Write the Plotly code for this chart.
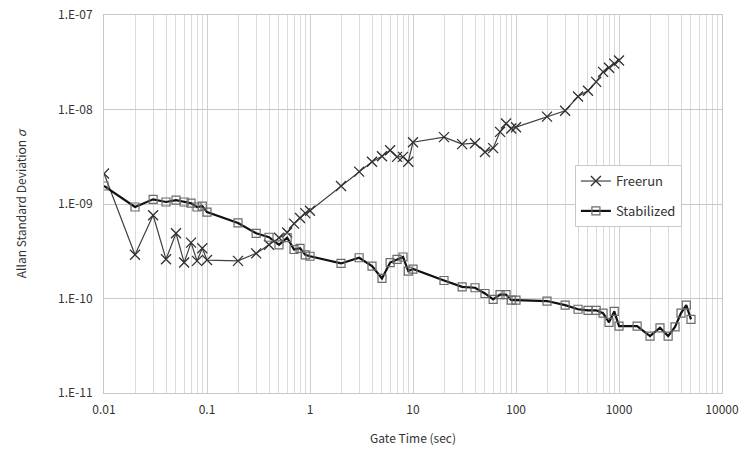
import plotly.graph_objects as go

# ---- data ----
free_x = [0.01, 0.02, 0.03, 0.04, 0.05, 0.06, 0.07, 0.08, 0.09, 0.1,
          0.2, 0.3, 0.4, 0.5, 0.6, 0.7, 0.8, 0.9, 1,
          2, 3, 4, 5, 6, 7, 8, 9, 10,
          20, 30, 40, 50, 60, 70, 80, 90, 100,
          200, 300, 400, 500, 600, 700, 800, 900, 1000]
free_y = [2.1e-9, 2.9e-10, 7.6e-10, 2.6e-10, 4.9e-10, 2.4e-10, 3.9e-10, 2.5e-10, 3.4e-10, 2.55e-10,
          2.5e-10, 3.0e-10, 3.7e-10, 4.4e-10, 5.0e-10, 6.2e-10, 7.1e-10, 8.0e-10, 8.5e-10,
          1.55e-9, 2.2e-9, 2.8e-9, 3.2e-9, 3.7e-9, 3.15e-9, 3.15e-9, 2.8e-9, 4.5e-9,
          5.1e-9, 4.3e-9, 4.4e-9, 3.55e-9, 3.9e-9, 5.8e-9, 7.1e-9, 6.3e-9, 6.5e-9,
          8.4e-9, 9.7e-9, 1.37e-8, 1.58e-8, 1.96e-8, 2.5e-8, 2.77e-8, 3.06e-8, 3.3e-8]

stab_x = [0.01, 0.02, 0.03, 0.04, 0.05, 0.06, 0.07, 0.08, 0.09, 0.1,
          0.2, 0.3, 0.4, 0.5, 0.6, 0.7, 0.8, 0.9, 1,
          2, 3, 4, 5, 6, 7, 8, 9, 10,
          20, 30, 40, 50, 60, 70, 80, 90, 100,
          200, 300, 400, 500, 600, 700, 800, 900, 1000,
          1500, 2000, 2500, 3000, 3500, 4000, 4500, 5000]
stab_y = [1.55e-9, 9.3e-10, 1.12e-9, 1.05e-9, 1.1e-9, 1.05e-9, 1.02e-9, 9.3e-10, 9.5e-10, 8.2e-10,
          6.3e-10, 4.9e-10, 4.45e-10, 3.7e-10, 4.4e-10, 3.3e-10, 3.4e-10, 2.9e-10, 2.8e-10,
          2.35e-10, 2.7e-10, 2.2e-10, 1.63e-10, 2.4e-10, 2.6e-10, 2.75e-10, 1.95e-10, 2.05e-10,
          1.55e-10, 1.33e-10, 1.3e-10, 1.13e-10, 9.8e-11, 1.1e-10, 1.1e-10, 9.6e-11, 9.6e-11,
          9.4e-11, 8.5e-11, 7.7e-11, 7.5e-11, 7.5e-11, 7.0e-11, 5.6e-11, 7.3e-11, 5.1e-11,
          5.1e-11, 4.0e-11, 4.9e-11, 4.0e-11, 5.0e-11, 7.0e-11, 8.5e-11, 6.0e-11]

x_ticks = [0.01, 0.1, 1, 10, 100, 1000, 10000]
x_tick_labels = ["0.01", "0.1", "1", "10", "100", "1000", "10000"]
y_ticks = [1e-11, 1e-10, 1e-9, 1e-8, 1e-7]
y_tick_labels = ["1.E-11", "1.E-10", "1.E-09", "1.E-08", "1.E-07"]
x_minor = [m * 10 ** e for e in range(-2, 4) for m in range(2, 10)]

FONT = "Noto Sans CJK JP"
TXT = "#333333"

fig = go.Figure()
fig.add_trace(go.Scatter(
    x=free_x, y=free_y, name="Freerun", mode="lines+markers", legendgroup="a",
    line=dict(color="#404040", width=1.2),
    marker=dict(symbol="x-thin-open", size=10, color="#303030",
                line=dict(color="#303030", width=1.3)),
))
fig.add_trace(go.Scatter(
    x=stab_x, y=stab_y, name="Stabilized", mode="lines+markers", legendgroup="b",
    line=dict(color="#111111", width=2.2),
    marker=dict(symbol="square-open", size=8, color="#6a6a6a",
                line=dict(color="#6a6a6a", width=1.2)),
))

fig.update_layout(
    width=745, height=452,
    margin=dict(l=104, r=23, t=15, b=59),
    paper_bgcolor="white", plot_bgcolor="white",
    font=dict(family=FONT, size=12, color=TXT),
    showlegend=True,
    legend=dict(x=0.762, y=0.603, xanchor="left", yanchor="top",
                bgcolor="white", bordercolor="#c8c8c8", borderwidth=1,
                font=dict(family=FONT, size=13, color=TXT),
                tracegroupgap=10, entrywidth=80, entrywidthmode="pixels"),
)
fig.update_xaxes(
    type="log", range=[-2, 4], automargin=False, ticklabeloverflow="allow",
    tickmode="array", tickvals=x_ticks, ticktext=x_tick_labels,
    showgrid=True, gridcolor="#cfcfcf", gridwidth=1,
    minor=dict(tickmode="array", tickvals=x_minor, showgrid=True,
               gridcolor="#dadada", gridwidth=1, ticks=""),
    showline=True, linecolor="#c8c8c8", linewidth=1, mirror=True,
    ticks="", ticklabelstandoff=6, zeroline=False,
    title=dict(text="Gate Time (sec)", font=dict(size=12, color=TXT), standoff=18),
    tickfont=dict(size=12, color=TXT),
)
fig.update_yaxes(
    type="log", range=[-11, -7], automargin=False, ticklabeloverflow="allow",
    tickmode="array", tickvals=y_ticks, ticktext=y_tick_labels,
    showgrid=True, gridcolor="#c8c8c8", gridwidth=1,
    showline=True, linecolor="#c8c8c8", linewidth=1, mirror=True,
    ticks="", ticklabelstandoff=8, zeroline=False,
    title=dict(text="Allan Standard Deviation <i>σ</i>", font=dict(size=12, color=TXT), standoff=28),
    tickfont=dict(size=12, color=TXT),
)

# remove the default 8px page margin so the 745x452 figure fills the window exactly
fig.write_html("out.html", config={"displayModeBar": False},
               post_script="document.body.style.margin='0';")
